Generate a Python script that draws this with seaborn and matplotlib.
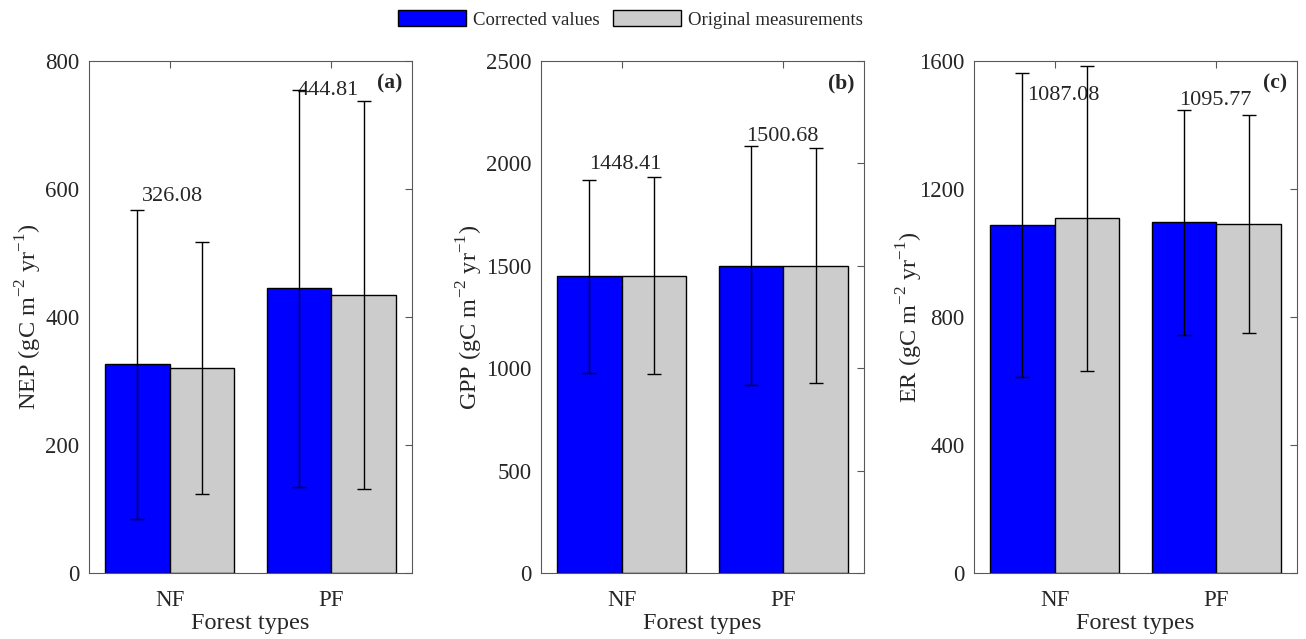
import numpy as np
import pandas as pd
import matplotlib
matplotlib.use("Agg")
import matplotlib.pyplot as plt
import seaborn as sns

# ------------------------------------------
# Data
# ------------------------------------------
forest_types = ["NF", "PF"]
series_names = ["Corrected values", "Original measurements"]

nep_corrected = [326.08, 444.81]
nep_original = [320, 435]
nep_corrected_sd = [241, 310]
nep_original_sd = [197, 303]

gpp_corrected = [1448.41, 1500.68]
gpp_original = [1452, 1501]
gpp_corrected_sd = [471, 583]
gpp_original_sd = [481, 574]

er_corrected = [1087.08, 1095.77]
er_original = [1108, 1090]
er_corrected_sd = [475, 351]
er_original_sd = [477, 341]

panel_labels = ["(a)", "(b)", "(c)"]
y_names = ["NEP", "GPP", "ER"]
y_limits = [800, 2500, 1600]
y_ticks = [[0, 200, 400, 600, 800],
           [0, 500, 1000, 1500, 2000, 2500],
           [0, 400, 800, 1200, 1600]]

# annotation positions (x offset from category, y in data units)
label_x = [[-0.17, -0.21], [-0.2, -0.23], [-0.17, -0.23]]
label_y = [[589, 754], [1993, 2129], [1491, 1477]]

# ------------------------------------------
# Style
# ------------------------------------------
sns.set_style("white")
plt.rcParams["font.family"] = ["Liberation Serif", "DejaVu Serif"]
plt.rcParams["mathtext.fontset"] = "custom"
plt.rcParams["mathtext.rm"] = "Liberation Serif"
plt.rcParams["font.size"] = 14

palette = {"Corrected values": (0, 0, 1), "Original measurements": (0.8, 0.8, 0.8)}

fig = plt.figure(figsize=(13.06, 6.39), dpi=100)

axes_boxes = [[89, 412], [541, 864], [974, 1297]]
ylabel_x = [-0.139, -0.173, -0.152]
W, H = 1306, 639
top_px, bottom_px = 61, 573

panels = [
    (nep_corrected, nep_original, nep_corrected_sd, nep_original_sd),
    (gpp_corrected, gpp_original, gpp_corrected_sd, gpp_original_sd),
    (er_corrected, er_original, er_corrected_sd, er_original_sd),
]

axes = []
for i, (corr, orig, corr_sd, orig_sd) in enumerate(panels):
    x0, x1 = axes_boxes[i]
    ax = fig.add_axes([x0 / W, 1 - bottom_px / H, (x1 - x0) / W, (bottom_px - top_px) / H])
    axes.append(ax)

    df = pd.DataFrame({
        "Forest": forest_types * 2,
        "Series": [series_names[0]] * 2 + [series_names[1]] * 2,
        "Value": list(corr) + list(orig),
        "SD": list(corr_sd) + list(orig_sd),
    })

    sns.barplot(
        data=df, x="Forest", y="Value", hue="Series",
        order=forest_types, hue_order=series_names,
        palette=palette, errorbar=None, width=0.8,
        edgecolor="black", linewidth=1.0, saturation=1, ax=ax
    )

    # error bars at the bar centres
    for patch, (_, row) in zip(ax.patches, df.iterrows()):
        cx = patch.get_x() + patch.get_width() / 2
        ax.errorbar(cx, row["Value"], yerr=row["SD"], color="black",
                    elinewidth=1.0, capsize=5, capthick=1.0, zorder=5)

    # value labels for corrected series
    for j, v in enumerate(corr):
        ax.text(j + label_x[i][j], label_y[i][j], f"{v:.2f}",
                ha="left", va="center", fontsize=16)

    ax.text(0.97, 0.975, panel_labels[i], transform=ax.transAxes,
            ha="right", va="top", fontsize=15.5, fontweight="bold")

    ax.set_xlim(-0.5, 1.5)
    ax.set_ylim(0, y_limits[i])
    ax.set_yticks(y_ticks[i])
    ax.set_xlabel("Forest types", fontsize=17.5, labelpad=2)
    ax.set_ylabel(y_names[i] + r" (gC m$^{-2}$ yr$^{-1}$)", fontsize=17.5)
    ax.yaxis.set_label_coords(ylabel_x[i], 0.5)
    ax.tick_params(direction="in", length=5, width=0.8, color="0.35",
                   top=True, right=True, labelsize=16.5)
    ax.tick_params(axis="x", pad=12)
    ax.tick_params(axis="y", pad=7)
    for s in ax.spines.values():
        s.set_color("0.35")
        s.set_linewidth(0.8)
    ax.get_legend().remove()

handles, labels = axes[0].get_legend_handles_labels()
fig.legend(handles[:2], labels[:2], loc="upper center", bbox_to_anchor=(0.483, 1.01),
           ncol=2, frameon=False, fontsize=13.5, handlelength=3.6, handleheight=0.9,
           columnspacing=0.7, handletextpad=0.4)

plt.savefig("out.png", dpi=100)
